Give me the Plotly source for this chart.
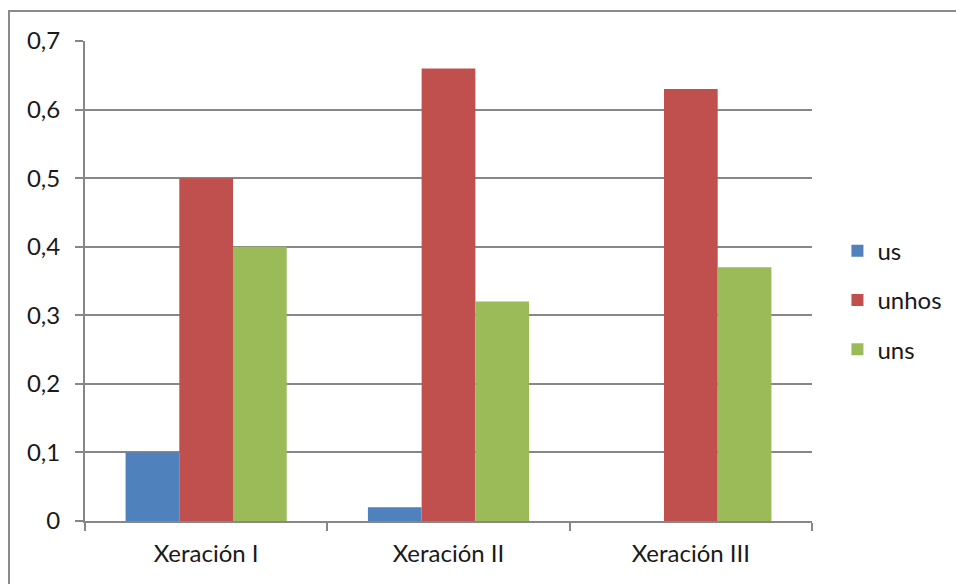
import plotly.graph_objects as go

categories = ["Xeración I", "Xeración II", "Xeración III"]
us = [0.1, 0.02, 0.0]
unhos = [0.5, 0.66, 0.63]
uns = [0.4, 0.32, 0.37]

series = [
    ("us", us, "#4F81BD"),
    ("unhos", unhos, "#C0504D"),
    ("uns", uns, "#9BBB59"),
]

font_family = "Lato, Open Sans, sans-serif"
grid_col = "#878787"

fig = go.Figure()
for name, vals, col in series:
    fig.add_trace(go.Bar(
        name=name, x=categories, y=vals,
        marker=dict(color=col, line=dict(width=0)),
        legendgroup=name,
    ))

fig.update_layout(
    width=956, height=584,
    margin=dict(l=85, r=144, t=41, b=63, autoexpand=False),
    paper_bgcolor="white", plot_bgcolor="white",
    barmode="group", bargap=0.335, bargroupgap=0,
    separators=", ",
    font=dict(family=font_family, size=24, color="#1a1a1a"),
    showlegend=True,
    legend=dict(
        x=1.035, xanchor="left", xref="paper", y=0.46, yanchor="middle",
        tracegroupgap=15, font=dict(size=24), itemwidth=30,
        bgcolor="rgba(0,0,0,0)",
    ),
    xaxis=dict(
        showgrid=False, showline=True, linecolor=grid_col, linewidth=2,
        ticks="outside", tickson="boundaries", ticklen=8, tickcolor=grid_col,
        tickwidth=2, ticklabelstandoff=10,
    ),
    yaxis=dict(
        range=[0, 0.7], dtick=0.1, showgrid=True, gridcolor=grid_col, gridwidth=1.5,
        showline=True, linecolor=grid_col, linewidth=2, zeroline=False,
        ticks="outside", ticklen=8, tickcolor=grid_col, tickwidth=2,
        ticklabelstandoff=10,
    ),
    shapes=[dict(
        type="rect", xref="paper", yref="paper",
        x0=(9 - 85) / 727, x1=1.3, y0=-0.3, y1=(521 - 11) / 480,
        line=dict(color="#8a8a8a", width=2), fillcolor="rgba(0,0,0,0)",
        layer="below",
    )],
)

fig.write_html("out.html")
